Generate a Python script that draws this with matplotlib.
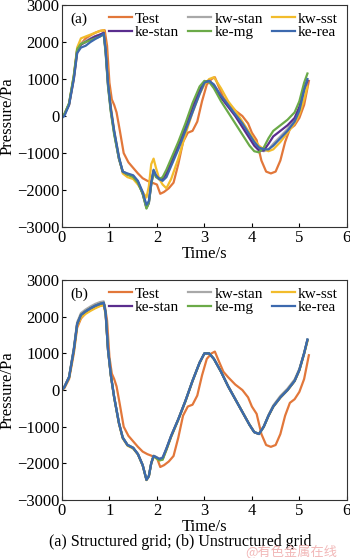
import matplotlib
matplotlib.use("Agg")
import matplotlib.pyplot as plt

plt.rcParams['font.family'] = ['Liberation Serif', 'DejaVu Serif']

# measured pressure (same in both panels)
t_test = [0, 0.05, 0.15, 0.25, 0.32, 0.4, 0.5, 0.6, 0.7, 0.8, 0.9, 0.95, 1.0, 1.05,
          1.1, 1.15, 1.22, 1.3, 1.4, 1.5, 1.6, 1.7, 1.8, 1.9, 2.0, 2.07, 2.15, 2.25,
          2.35, 2.45, 2.55, 2.65, 2.75, 2.85, 2.95, 3.05, 3.15, 3.22, 3.3, 3.4, 3.5,
          3.65, 3.8, 3.92, 4.0, 4.1, 4.2, 4.3, 4.4, 4.5, 4.6, 4.7, 4.8, 4.9, 5.0,
          5.1, 5.2]
p_test = [0, 50, 300, 1000, 1700, 1950, 2100, 2180, 2250, 2300, 2320, 1900, 900, 450,
          300, 100, -400, -1000, -1250, -1400, -1550, -1680, -1750, -1800, -1850,
          -2100, -2050, -1950, -1800, -1300, -700, -450, -400, -150, 400, 850, 1000,
          1050, 800, 500, 350, 150, 0, -200, -450, -650, -1200, -1500, -1550, -1500,
          -1200, -700, -350, -250, -50, 300, 950]

# simulation time grid
t_sim = [0, 0.05, 0.15, 0.25, 0.32, 0.4, 0.5, 0.6, 0.7, 0.8, 0.88, 0.92, 0.97, 1.03,
         1.1, 1.2, 1.28, 1.38, 1.5, 1.6, 1.7, 1.78, 1.83, 1.88, 1.93, 1.98, 2.05,
         2.12, 2.2, 2.3, 2.45, 2.6, 2.75, 2.9, 3.0, 3.1, 3.2, 3.35, 3.5, 3.65, 3.8,
         3.95, 4.05, 4.15, 4.25, 4.35, 4.45, 4.6, 4.75, 4.9, 5.0, 5.1, 5.17]

# (a) structured grid
a_kw_stan = [0, 40, 320, 1050, 1760, 1950, 2030, 2100, 2160, 2200, 2240, 1750, 850,
             150, -450, -1150, -1500, -1570, -1620, -1780, -2080, -2450, -2330,
             -1830, -1470, -1620, -1720, -1730, -1600, -1300, -850, -350, 150, 650,
             900, 950, 850, 520, 280, 20, -250, -560, -760, -900, -950, -900, -750,
             -550, -350, -100, 200, 700, 950]
a_kw_sst = [0, 40, 330, 1100, 1850, 2100, 2150, 2200, 2250, 2300, 2320, 1900, 1000,
            250, -400, -1100, -1550, -1650, -1700, -1850, -2050, -2200, -1900, -1300,
            -1150, -1400, -1700, -1850, -1950, -1700, -1150, -500, 100, 600, 850, 1000,
            1050, 750, 400, 150, -150, -450, -650, -800, -900, -950, -900, -700, -450,
            -200, 50, 450, 800]
a_ke_stan = [0, 30, 330, 1050, 1780, 1930, 2000, 2080, 2150, 2200, 2250, 1750, 850,
             150, -450, -1150, -1500, -1580, -1620, -1780, -2100, -2480, -2350, -1850,
             -1480, -1620, -1700, -1700, -1550, -1250, -800, -300, 250, 700, 930, 950,
             820, 500, 250, 0, -300, -600, -800, -930, -930, -750, -550, -400, -250,
             -50, 250, 750, 950]
a_ke_mg = [0, 50, 350, 1100, 1800, 1950, 2000, 2050, 2100, 2150, 2200, 1700, 800, 100,
           -500, -1150, -1500, -1580, -1650, -1800, -2100, -2500, -2350, -1850, -1500,
           -1650, -1700, -1650, -1450, -1150, -700, -200, 350, 800, 950, 920, 750, 400,
           100, -200, -500, -800, -950, -980, -850, -600, -400, -250, -100, 100, 400,
           900, 1150]
a_ke_rea = [-50, 0, 300, 1000, 1700, 1850, 1900, 2000, 2080, 2150, 2230, 1800, 900,
            200, -400, -1100, -1500, -1550, -1600, -1750, -2050, -2400, -2300, -1800,
            -1450, -1600, -1700, -1750, -1650, -1350, -900, -400, 100, 600, 900, 950,
            850, 550, 300, 50, -200, -500, -700, -850, -900, -900, -800, -600, -400,
            -150, 150, 700, 1000]

# (b) unstructured grid
b_kw_stan = [0, 90, 370, 1150, 1850, 2100, 2200, 2280, 2350, 2400, 2420, 2150, 1150,
             420, -180, -880, -1290, -1490, -1570, -1740, -2040, -2440, -2340, -1990,
             -1790, -1820, -1870, -1840, -1590, -1240, -790, -290, 260, 760, 1000,
             1000, 850, 500, 110, -240, -590, -940, -1140, -1190, -990, -680, -420,
             -160, 40, 290, 580, 1020, 1350]
b_kw_sst = [0, 70, 330, 1050, 1750, 1980, 2080, 2160, 2230, 2290, 2320, 2050, 1080,
            380, -220, -920, -1320, -1520, -1600, -1760, -2060, -2460, -2360, -2010,
            -1820, -1860, -1920, -1900, -1640, -1280, -820, -320, 240, 740, 990, 1000,
            850, 500, 100, -250, -600, -950, -1150, -1200, -1010, -710, -460, -210,
            -10, 240, 530, 980, 1330]
b_ke_stan = [0, 80, 350, 1100, 1800, 2050, 2150, 2230, 2300, 2350, 2380, 2100, 1100,
             400, -200, -900, -1300, -1500, -1580, -1750, -2050, -2450, -2350, -2000,
             -1800, -1840, -1900, -1870, -1610, -1260, -800, -300, 250, 750, 1000,
             1000, 850, 500, 100, -250, -600, -950, -1150, -1200, -1000, -700, -450,
             -200, 0, 250, 550, 1000, 1370]
b_ke_mg = [0, 80, 350, 1100, 1800, 2050, 2150, 2230, 2300, 2350, 2380, 2100, 1100,
           400, -200, -900, -1300, -1500, -1580, -1750, -2050, -2450, -2350, -2000,
           -1800, -1850, -1920, -1900, -1620, -1260, -800, -300, 250, 750, 1000, 1000,
           850, 500, 100, -250, -600, -950, -1150, -1200, -1000, -700, -450, -200, 0,
           250, 550, 1000, 1370]
b_ke_rea = [0, 80, 350, 1100, 1800, 2050, 2150, 2230, 2300, 2350, 2380, 2100, 1100,
            400, -200, -900, -1300, -1500, -1580, -1750, -2050, -2450, -2350, -2000,
            -1800, -1830, -1880, -1850, -1600, -1250, -800, -300, 250, 750, 1000, 1000,
            850, 500, 100, -250, -600, -950, -1150, -1200, -1000, -700, -450, -200, 0,
            250, 550, 1000, 1380]

names = ['Test', 'kw-stan', 'kw-sst', 'ke-stan', 'ke-mg', 'ke-rea']
colors = ['#E2773A', '#A8A8A8', '#F2BC2C', '#5A2D8E', '#6BAA48', '#3C69AE']

fig = plt.figure(figsize=(3.5, 5.58), dpi=100)
ax_a = fig.add_axes([0.177, 0.593, 0.814, 0.398])
ax_b = fig.add_axes([0.177, 0.104, 0.814, 0.394])

panels = [
    (ax_a, '(a)', [a_kw_stan, a_kw_sst, a_ke_stan, a_ke_mg, a_ke_rea]),
    (ax_b, '(b)', [b_kw_stan, b_kw_sst, b_ke_stan, b_ke_mg, b_ke_rea]),
]

for ax, tag, sims in panels:
    lines = [ax.plot(t_test, p_test, color=colors[0], lw=1.6, label=names[0])[0]]
    for i, vals in enumerate(sims):
        ln, = ax.plot(t_sim, vals, color=colors[i + 1], lw=1.6, label=names[i + 1])
        lines.append(ln)
    ax.set_xlim(0, 6)
    ax.set_ylim(-3000, 3000)
    ax.set_xticks(range(0, 7))
    ax.set_yticks(range(-3000, 3001, 1000))
    ax.set_yticklabels(['\u22123000', '\u22122000', '\u22121000', '0', '1000', '2000', '3000'])
    ax.tick_params(direction='in', length=3, width=0.8, labelsize=12, pad=2,
                   top=False, right=False)
    for sp in ax.spines.values():
        sp.set_linewidth(0.8)
        sp.set_color('#333333')
    ax.set_xlabel('Time/s', fontsize=12, labelpad=0)
    ax.set_ylabel('Pressure/Pa', fontsize=12, labelpad=1)
    ax.text(0.03, 0.965, tag, transform=ax.transAxes, fontsize=11, va='top', ha='left')
    order = [0, 3, 1, 4, 2, 5]
    ax.legend([lines[k] for k in order], [names[k] for k in order], ncol=3,
              loc='upper right', bbox_to_anchor=(1.0, 1.01), frameon=False,
              fontsize=11, handlelength=1.5, handletextpad=0.2, columnspacing=0.6,
              labelspacing=0.0, borderaxespad=0.2)

fig.text(0.515, 0.028, '(a) Structured grid; (b) Unstructured grid', ha='center',
         va='center', fontsize=11.5)
fig.text(0.70, 0.011, '@有色金属在线', ha='left', va='center', fontsize=9.5,
         color='#F2B8B8', family=['Noto Sans CJK SC', 'DejaVu Sans'])

fig.savefig('out.png', dpi=100)
